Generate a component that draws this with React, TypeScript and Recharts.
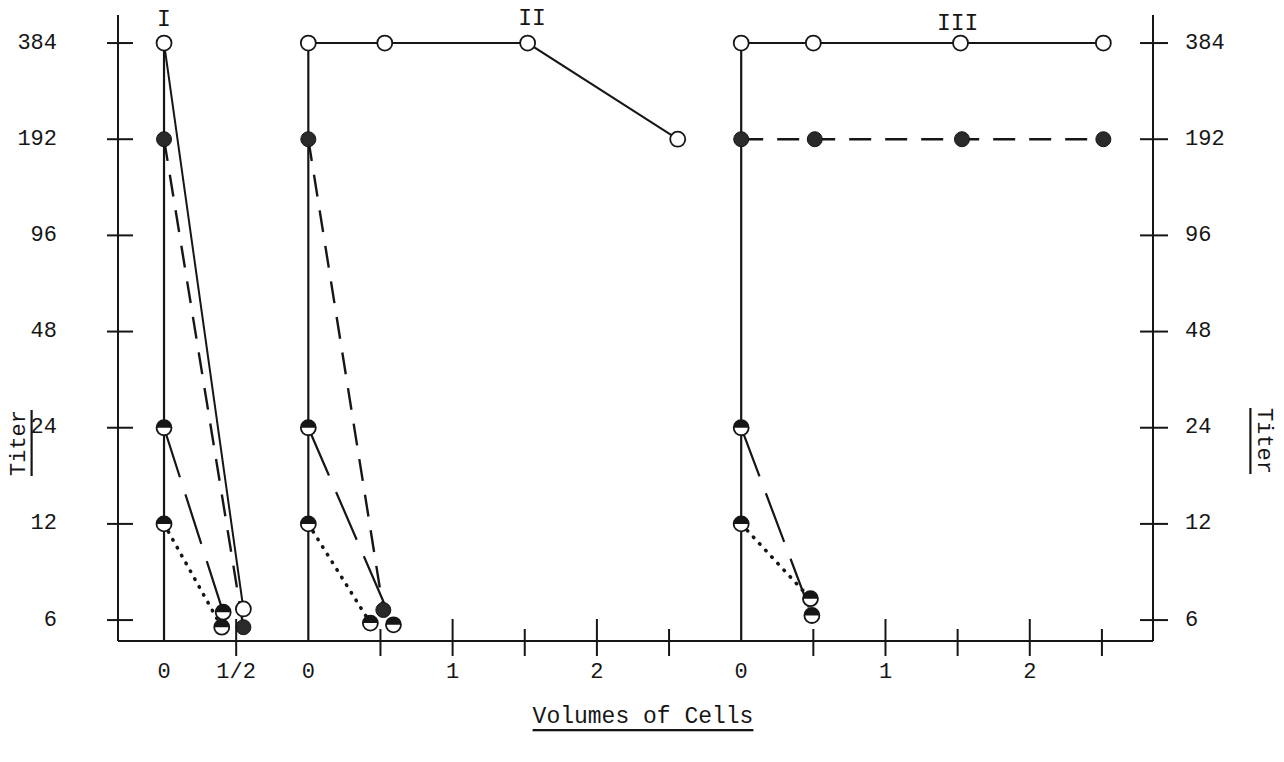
import { LineChart, Line, XAxis, YAxis, ReferenceLine, ReferenceDot } from "recharts";

const FONT = '"Liberation Mono", "DejaVu Sans Mono", monospace';
const INK = "#161616";

// titer axis (log2 steps)
const Y_TICKS = [6, 12, 24, 48, 96, 192, 384];
const Y_DOMAIN: [number, number] = [5.16, 470];

// volumes of cells; each panel sits at its own offset on one shared x axis
const PANEL_NAMES = ["I", "II", "III"];
const PANEL_OFFSETS = [0, 1, 4];
const PANEL_NAME_VOLUMES = [0, 1.55, 1.5];
const PANEL_NAME_TITERS = [455, 458, 440];
const PANEL_TOP_TITERS = [384, 384, 384];

const X_TICKS = [0, 0.5, 1, 1.5, 2, 2.5, 3, 3.5, 4, 4.5, 5, 5.5, 6, 6.5];
const X_TICK_LABELS = ["0", "1/2", "0", "", "1", "", "2", "", "0", "", "1", "", "2", ""];
const X_DOMAIN: [number, number] = [-0.319, 6.854];

// [volume, titer] pairs
const I_OPEN = [[0, 384], [0.55, 6.5]];
const I_FILLED = [[0, 192], [0.55, 5.7]];
const I_HALF24 = [[0, 24], [0.41, 6.35]];
const I_HALF12 = [[0, 12], [0.4, 5.7]];

const II_OPEN = [[0, 384], [0.53, 384], [1.52, 384], [2.56, 192]];
const II_FILLED = [[0, 192], [0.52, 6.45]];
const II_HALF24 = [[0, 24], [0.59, 5.8]];
const II_HALF12 = [[0, 12], [0.43, 5.87]];

const III_OPEN = [[0, 384], [0.5, 384], [1.52, 384], [2.51, 384]];
const III_FILLED = [[0, 192], [0.51, 192], [1.53, 192], [2.51, 192]];
const III_HALF24 = [[0, 24], [0.49, 6.2]];
const III_HALF12 = [[0, 12], [0.48, 7.0]];

type Kind = "open" | "filled" | "half";

const STYLE: Record<string, { kind: Kind; dash?: string; width: number; cap?: "round" | "butt" }> = {
  open: { kind: "open", width: 2 },
  filled: { kind: "filled", dash: "22 14", width: 2.4 },
  half24: { kind: "half", dash: "52 18", width: 2.2 },
  half12: { kind: "half", dash: "0.5 8.5", width: 3.6, cap: "round" },
};

const toPoints = (offset: number, pairs: number[][]) =>
  pairs.map(([v, t]) => ({ x: offset + v, y: t }));

const SERIES = [
  { id: "I-half12", style: "half12", data: toPoints(PANEL_OFFSETS[0], I_HALF12) },
  { id: "I-half24", style: "half24", data: toPoints(PANEL_OFFSETS[0], I_HALF24) },
  { id: "I-filled", style: "filled", data: toPoints(PANEL_OFFSETS[0], I_FILLED) },
  { id: "I-open", style: "open", data: toPoints(PANEL_OFFSETS[0], I_OPEN) },
  { id: "II-half12", style: "half12", data: toPoints(PANEL_OFFSETS[1], II_HALF12) },
  { id: "II-half24", style: "half24", data: toPoints(PANEL_OFFSETS[1], II_HALF24) },
  { id: "II-filled", style: "filled", data: toPoints(PANEL_OFFSETS[1], II_FILLED) },
  { id: "II-open", style: "open", data: toPoints(PANEL_OFFSETS[1], II_OPEN) },
  { id: "III-half12", style: "half12", data: toPoints(PANEL_OFFSETS[2], III_HALF12) },
  { id: "III-half24", style: "half24", data: toPoints(PANEL_OFFSETS[2], III_HALF24) },
  { id: "III-filled", style: "filled", data: toPoints(PANEL_OFFSETS[2], III_FILLED) },
  { id: "III-open", style: "open", data: toPoints(PANEL_OFFSETS[2], III_OPEN) },
];

function Marker({ cx, cy, kind }: { cx?: number; cy?: number; kind: Kind }) {
  if (cx == null || cy == null) return null;
  const r = 7.5;
  if (kind === "open") {
    return <circle cx={cx} cy={cy} r={r} fill="#fff" stroke={INK} strokeWidth={1.8} />;
  }
  if (kind === "filled") {
    return <circle cx={cx} cy={cy} r={r} fill="#2a2a2a" stroke={INK} strokeWidth={1} />;
  }
  return (
    <g>
      <circle cx={cx} cy={cy} r={r} fill="#fff" />
      <path d={`M${cx - r},${cy} A${r},${r} 0 0 1 ${cx + r},${cy} Z`} fill={INK} />
      <circle cx={cx} cy={cy} r={r} fill="none" stroke={INK} strokeWidth={1.8} />
    </g>
  );
}

const LeftTick = (p: any) => (
  <g>
    <line x1={p.x - 11} x2={p.x + 15} y1={p.y} y2={p.y} stroke={INK} strokeWidth={2} />
    <text x={p.x - 61} y={p.y} textAnchor="end" dominantBaseline="central"
      fontFamily={FONT} fontSize={22} fill={INK}>{p.payload.value}</text>
  </g>
);

const RightTick = (p: any) => (
  <g>
    <line x1={p.x - 13} x2={p.x + 15} y1={p.y} y2={p.y} stroke={INK} strokeWidth={2} />
    <text x={p.x + 32} y={p.y} textAnchor="start" dominantBaseline="central"
      fontFamily={FONT} fontSize={22} fill={INK}>{p.payload.value}</text>
  </g>
);

const BottomTick = (p: any) => {
  const v: number = p.payload.value;
  const i = X_TICKS.indexOf(v);
  const isPanelZero = PANEL_OFFSETS.includes(v);
  const isWhole = X_TICK_LABELS[i] !== "";
  const up = isWhole ? 22 : 12;
  return (
    <g>
      {!isPanelZero && (
        <line x1={p.x} x2={p.x} y1={p.y - up} y2={p.y + 15} stroke={INK} strokeWidth={2} />
      )}
      <text x={p.x} y={p.y + 31} textAnchor="middle" dominantBaseline="central"
        fontFamily={FONT} fontSize={22} fill={INK}>{X_TICK_LABELS[i]}</text>
    </g>
  );
};

export default function App() {
  return (
    <div style={{ position: "absolute", left: 0, top: 0, width: 1284, height: 762, background: "#fff" }}>
      <LineChart width={1284} height={762} margin={{ top: 15, right: 31, bottom: 61, left: 18 }}>
        <XAxis type="number" dataKey="x" domain={X_DOMAIN} ticks={X_TICKS} interval={0}
          allowDataOverflow height={60} tickSize={0} tickMargin={0} tick={BottomTick}
          axisLine={{ stroke: INK, strokeWidth: 2 }} tickLine={false} />
        <YAxis yAxisId="left" type="number" scale="log" domain={Y_DOMAIN} ticks={Y_TICKS}
          interval={0} allowDataOverflow width={100} tickSize={0} tickMargin={0} tick={LeftTick}
          axisLine={{ stroke: INK, strokeWidth: 2 }} tickLine={false} />
        <YAxis yAxisId="right" orientation="right" type="number" scale="log" domain={Y_DOMAIN}
          ticks={Y_TICKS} interval={0} allowDataOverflow width={100} tickSize={0} tickMargin={0}
          tick={RightTick} axisLine={{ stroke: INK, strokeWidth: 2 }} tickLine={false} />

        {PANEL_OFFSETS.map((off, i) => (
          <ReferenceLine key={`v-${i}`} yAxisId="left" ifOverflow="visible"
            segment={[{ x: off, y: Y_DOMAIN[0] }, { x: off, y: PANEL_TOP_TITERS[i] }]}
            stroke={INK} strokeWidth={2.2} />
        ))}

        {SERIES.map((s) => {
          const st = STYLE[s.style];
          return (
            <Line key={s.id} data={s.data} dataKey="y" yAxisId="left" type="linear"
              stroke={INK} strokeWidth={st.width} strokeDasharray={st.dash}
              strokeLinecap={st.cap ?? "butt"} isAnimationActive={false} activeDot={false}
              legendType="none"
              dot={(p: any) => <Marker key={`${s.id}-${p.index}`} cx={p.cx} cy={p.cy} kind={st.kind} />} />
          );
        })}

        {PANEL_NAMES.map((name, i) => (
          <ReferenceDot key={name} yAxisId="left" x={PANEL_OFFSETS[i] + PANEL_NAME_VOLUMES[i]}
            y={PANEL_NAME_TITERS[i]} r={0} ifOverflow="visible"
            shape={(p: any) => (
              <text x={p.cx} y={p.cy} textAnchor="middle" dominantBaseline="central"
                fontFamily={FONT} fontSize={23} fill={INK}>{name}</text>
            )} />
        ))}
      </LineChart>

      <svg width={1284} height={762} style={{ position: "absolute", left: 0, top: 0, pointerEvents: "none" }}>
        <text x={643} y={717} textAnchor="middle" dominantBaseline="central" fontFamily={FONT}
          fontSize={23} fill={INK} textDecoration="underline">Volumes of Cells</text>
        <text x={0} y={0} transform="translate(19,443) rotate(-90)" textAnchor="middle"
          dominantBaseline="central" fontFamily={FONT} fontSize={22} fill={INK}
          textDecoration="underline">Titer</text>
        <text x={0} y={0} transform="translate(1263,441) rotate(90)" textAnchor="middle"
          dominantBaseline="central" fontFamily={FONT} fontSize={22} fill={INK}
          textDecoration="underline">Titer</text>
      </svg>
    </div>
  );
}
